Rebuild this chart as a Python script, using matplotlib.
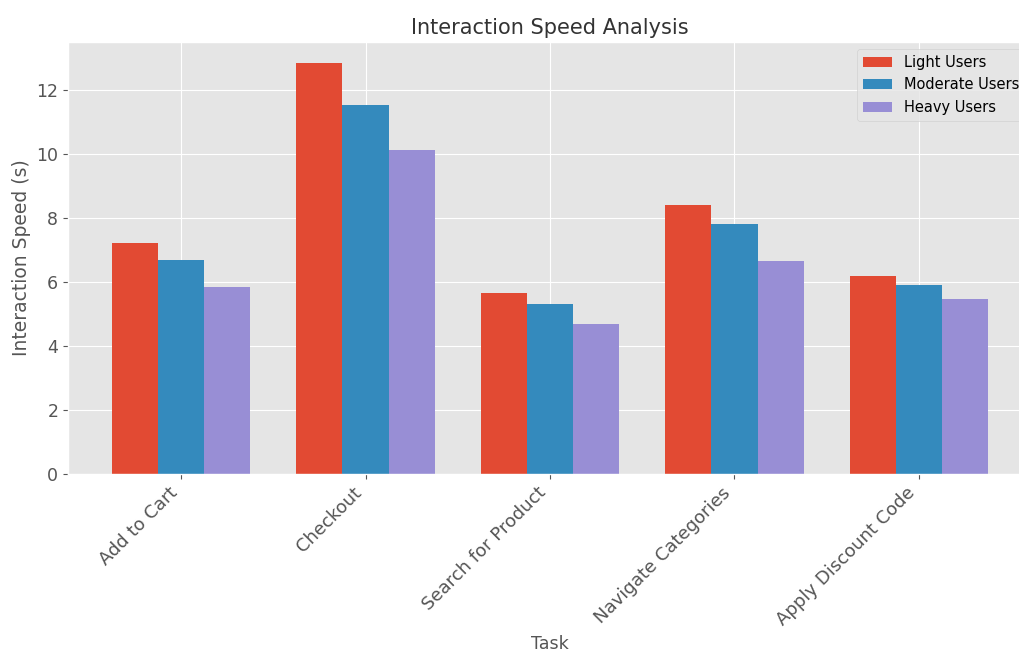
import matplotlib
matplotlib.use("Agg")
import matplotlib.pyplot as plt
import numpy as np

tasks = ["Add to Cart", "Checkout", "Search for Product", "Navigate Categories", "Apply Discount Code"]
light_users = [7.22, 12.86, 5.66, 8.42, 6.19]
moderate_users = [6.68, 11.53, 5.31, 7.81, 5.92]
heavy_users = [5.86, 10.14, 4.70, 6.67, 5.46]
series_names = ["Light Users", "Moderate Users", "Heavy Users"]

plt.style.use("ggplot")
fig = plt.figure(figsize=(10.19, 6.63), dpi=100)
ax = fig.add_axes([68/1019, 1-474/663, (1032-68)/1019, (474-42)/663])

x = np.arange(len(tasks))
w = 0.25
for i, (name, vals) in enumerate(zip(series_names, [light_users, moderate_users, heavy_users])):
    ax.bar(x + (i - 1) * w, vals, w, label=name)

ax.set_xticks(x)
ax.set_xticklabels(tasks, rotation=45, ha="right", fontsize=13)
ax.tick_params(axis="y", labelsize=12.5)
ax.set_xlabel("Task", fontsize=12.5)
ax.set_ylabel("Interaction Speed (s)", fontsize=13.5)
ax.set_title("Interaction Speed Analysis", fontsize=15, color="#333333")
ax.legend(loc="upper right", fontsize=10.5)

fig.savefig("out.png", dpi=100)
